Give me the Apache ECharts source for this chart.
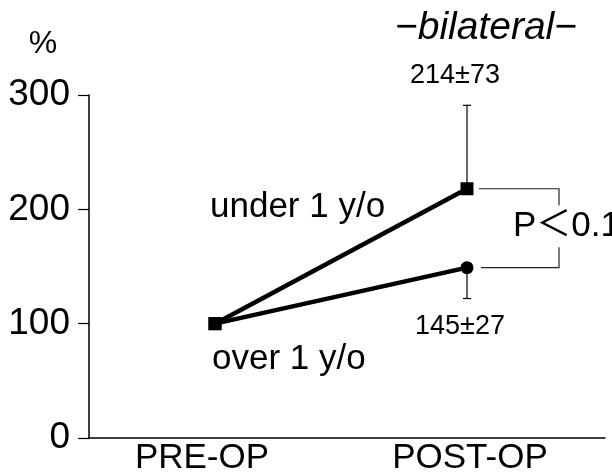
<!DOCTYPE html>
<html><head><meta charset="utf-8">
<script src="https://cdn.jsdelivr.net/npm/echarts@6/dist/echarts.min.js"></script>
<style>html,body{margin:0;padding:0;background:#fff}#c{width:612px;height:473px}</style>
</head><body><div id="c"></div>
<script>
const categories = ['PRE-OP', 'POST-OP'];
const underValues = [100, 218];
const overValues = [100, 149];
const underSD = [0, 73];
const overSD = [0, 27];
const underLabel = '214±73';
const overLabel = '145±27';
const yMin = 0, yMax = 300, yInterval = 100;

const FONT = '"Liberation Sans", Arial, sans-serif';
const chart = echarts.init(document.getElementById('c'), null, {renderer: 'canvas'});

const errUp = [[1, underValues[1], underValues[1] + underSD[1]]];
const errDown = [[1, overValues[1], overValues[1] - overSD[1]]];
const bracket = [[1, underValues[1], overValues[1]]];

function errRender(params, api) {
  const x = api.value(0);
  const p0 = api.coord([x, api.value(1)]);
  const p1 = api.coord([x, api.value(2)]);
  return {type: 'group', children: [
    {type: 'line', shape: {x1: p0[0], y1: p0[1], x2: p1[0], y2: p1[1]}, style: {stroke: '#000', lineWidth: 1.2}},
    {type: 'line', shape: {x1: p1[0] - 4, y1: p1[1], x2: p1[0] + 4, y2: p1[1]}, style: {stroke: '#000', lineWidth: 1.2}}
  ]};
}
function bracketRender(params, api) {
  const a = api.coord([api.value(0), api.value(1)]);
  const b = api.coord([api.value(0), api.value(2)]);
  const x1 = a[0] + 12, x2 = a[0] + 92;
  const mid = (a[1] + b[1]) / 2;
  const st = {stroke: '#222', lineWidth: 1.2, fill: null};
  return {type: 'group', children: [
    {type: 'polyline', shape: {points: [[x1, a[1]], [x2, a[1]], [x2, mid - 23]]}, style: st},
    {type: 'polyline', shape: {points: [[x2, mid + 19], [x2, b[1]], [x1 + 2, b[1]]]}, style: st}
  ]};
}

const txt = (text, x, y, size, extra) => ({
  type: 'text', x: x, y: y, silent: true,
  style: Object.assign({text: text, fontSize: size, fontFamily: FONT, fill: '#000', verticalAlign: 'middle', align: 'left'}, extra || {})
});

chart.setOption({
  animation: false,
  backgroundColor: '#fff',
  grid: [
    {left: 89, right: 19, top: 95, bottom: 35, containLabel: false, outerBoundsMode: 'none'},
    {left: 89, right: 7, top: 95, bottom: 35, containLabel: false, outerBoundsMode: 'none'}
  ],
  xAxis: [
    {type: 'category', gridIndex: 0, data: categories, boundaryGap: true,
     axisLine: {show: false}, axisTick: {show: false},
     axisLabel: {interval: 0, hideOverlap: false, margin: 3, color: '#000', fontFamily: FONT, fontSize: 35,
       formatter: function (v, i) { return i === 0 ? '{a|' + v + '}' : '{b|' + v + '}'; },
       rich: {a: {fontSize: 35, fontFamily: FONT, color: '#000', padding: [0, 26, 0, 0]},
              b: {fontSize: 35, fontFamily: FONT, color: '#000', padding: [0, 0, 0, 6]}}}},
    {type: 'value', gridIndex: 1, min: 0, max: 1,
     axisLine: {show: true, lineStyle: {color: '#000', width: 1.5}}, axisTick: {show: false},
     axisLabel: {show: false}, splitLine: {show: false}}
  ],
  yAxis: [
    {type: 'value', gridIndex: 0, min: yMin, max: yMax, interval: yInterval,
     axisLine: {show: true, lineStyle: {color: '#000', width: 1.5}},
     axisTick: {show: true, length: 11, lineStyle: {color: '#000', width: 1.2}},
     axisLabel: {margin: 19, color: '#000', fontFamily: FONT, fontSize: 37},
     splitLine: {show: false}},
    {type: 'value', gridIndex: 1, min: 0, max: 1, show: false}
  ],
  series: [
    {type: 'custom', xAxisIndex: 0, yAxisIndex: 0, renderItem: errRender, data: errUp, z: 1},
    {type: 'custom', xAxisIndex: 0, yAxisIndex: 0, renderItem: errRender, data: errDown, z: 1},
    {type: 'custom', xAxisIndex: 0, yAxisIndex: 0, renderItem: bracketRender, data: bracket, z: 1},
    {type: 'line', xAxisIndex: 0, yAxisIndex: 0, data: overValues.map((v, i) => ({value: v, symbol: i === 0 ? 'rect' : 'circle', symbolSize: 13})),
     lineStyle: {color: '#000', width: 4.5}, itemStyle: {color: '#000'}, showSymbol: true, z: 3},
    {type: 'line', xAxisIndex: 0, yAxisIndex: 0, data: underValues, symbol: 'rect', symbolSize: 13,
     lineStyle: {color: '#000', width: 4.5}, itemStyle: {color: '#000'}, z: 4}
  ],
  graphic: [
    txt('%', 43, 44, 32, {align: 'center'}),
    txt('\u2212bilateral\u2212', 486, 28, 39, {align: 'center', fontStyle: 'italic'}),
    txt(underLabel, 455, 76, 27, {align: 'center'}),
    txt(overLabel, 460, 327, 27, {align: 'center'}),
    txt('under 1 y/o', 210, 207, 35),
    txt('over 1 y/o', 212, 359, 35),
    txt('P\uFF1C0.1', 513, 226, 35, {fontFamily: '"Liberation Sans", "Noto Sans CJK JP", sans-serif'})
  ]
});
</script></body></html>
